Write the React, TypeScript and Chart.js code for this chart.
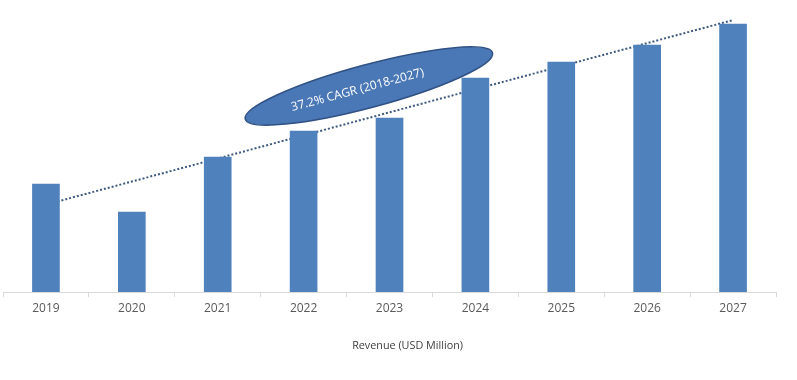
import React, { useEffect, useRef } from "react";
import { Chart, registerables } from "chart.js";

Chart.register(...registerables);

const categories = ["2019", "2020", "2021", "2022", "2023", "2024", "2025", "2026", "2027"];
const revenue = [108, 80, 135, 161, 174, 214, 230, 247, 268];
const cagrLabel = "37.2% CAGR (2018-2027)";
const axisTitle = "Revenue (USD Million)";
const yMax = 282;

const FONT = "'Open Sans', 'Noto Sans', sans-serif";

// least-squares linear trendline through the bar values (like the spreadsheet trendline)
function linearTrend(values: number[]): number[] {
  const n = values.length;
  const mx = (n - 1) / 2;
  const my = values.reduce((a, b) => a + b, 0) / n;
  let sxy = 0;
  let sxx = 0;
  values.forEach((v, i) => {
    sxy += (i - mx) * (v - my);
    sxx += (i - mx) * (i - mx);
  });
  const slope = sxy / sxx;
  return values.map((_, i) => my + slope * (i - mx));
}

const ellipsePlugin = {
  id: "cagrEllipse",
  afterDatasetsDraw(chart: any) {
    const { ctx, scales } = chart;
    const cx = scales.x.getPixelForValue(3.76);
    const cy = scales.y.getPixelForValue(206);
    ctx.save();
    ctx.translate(cx, cy);
    ctx.rotate((-15 * Math.PI) / 180);
    ctx.beginPath();
    ctx.ellipse(0, 0, 128, 21.5, 0, 0, Math.PI * 2);
    ctx.fillStyle = "#4a77b5";
    ctx.fill();
    ctx.lineWidth = 1.5;
    ctx.strokeStyle = "#2f5184";
    ctx.stroke();
    ctx.fillStyle = "#ffffff";
    ctx.font = `12px ${FONT}`;
    ctx.textAlign = "center";
    ctx.textBaseline = "middle";
    ctx.fillText(cagrLabel, -12, 1);
    ctx.restore();
  },
};

const axisTitlePlugin = {
  id: "axisTitleOffset",
  afterDraw(chart: any) {
    const { ctx, scales } = chart;
    const x = scales.x.getPixelForValue(4.21);
    ctx.save();
    ctx.fillStyle = "#404040";
    ctx.font = `10.8px ${FONT}`;
    ctx.textAlign = "center";
    ctx.textBaseline = "middle";
    ctx.fillText(axisTitle, x, 346);
    ctx.restore();
  },
};

export default function App() {
  const ref = useRef<HTMLCanvasElement | null>(null);

  useEffect(() => {
    if (!ref.current) return;
    const chart = new Chart(ref.current, {
      type: "bar",
      data: {
        labels: categories,
        datasets: [
          {
            type: "bar",
            data: revenue,
            backgroundColor: "#4f81bd",
            barThickness: 27,
            order: 0,
          },
          {
            type: "line",
            data: linearTrend(revenue),
            borderColor: "#3d5a80",
            borderWidth: 2,
            borderDash: [2, 2],
            pointRadius: 0,
            fill: false,
            order: 1,
          } as any,
        ],
      },
      options: {
        responsive: false,
        animation: false,
        layout: { padding: { left: 3, right: 21, top: 10, bottom: 0 } },
        plugins: {
          legend: { display: false },
          tooltip: { enabled: false },
        },
        scales: {
          x: {
            offset: true,
            grid: {
              display: true,
              drawOnChartArea: false,
              drawTicks: true,
              tickLength: 5,
              color: "#d9d9d9",
            },
            border: { display: true, color: "#d9d9d9", width: 1 },
            ticks: {
              color: "#595959",
              font: { family: FONT, size: 12 },
              padding: 4,
              maxRotation: 0,
              autoSkip: false,
            },
            title: { display: false },
            afterFit: (s: any) => {
              s.height = 88;
            },
          },
          y: {
            display: false,
            min: 0,
            max: yMax,
          },
        },
      },
      plugins: [ellipsePlugin, axisTitlePlugin],
    });
    return () => chart.destroy();
  }, []);

  return (
    <div style={{ position: "fixed", left: 0, top: 0, width: 797, height: 380, background: "#fff" }}>
      <canvas ref={ref} width={797} height={380} style={{ display: "block" }} />
    </div>
  );
}
